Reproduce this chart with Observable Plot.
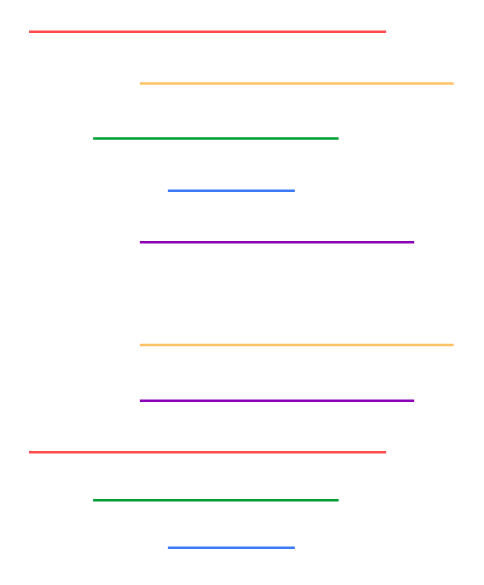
<!DOCTYPE html>
<html>
<head>
<meta charset="utf-8">
<script src="https://cdn.jsdelivr.net/npm/d3@7"></script>
<script src="https://cdn.jsdelivr.net/npm/@observablehq/plot@0.6"></script>
<style>
  html, body { margin: 0; padding: 0; background: #fff; }
  #chart svg { display: block; }
</style>
</head>
<body>
<div id="chart"></div>
<script>
// Series (one per colour)
const series = ["S1", "S2", "S3", "S4", "S5"];
const colors = ["#ff4d4d", "#ffc266", "#009e35", "#3d7af5", "#8c00b8"];
const starts = [0, 26.1, 15.1, 32.7, 26.1];
const ends   = [84.1, 100, 72.9, 62.6, 90.7];

// Row positions for the two groups (top: original order, bottom: sorted by end)
const topOrder    = ["S1", "S2", "S3", "S4", "S5"];
const topRows     = [0, 1.0, 2.07, 3.08, 4.08];
const bottomOrder = ["S2", "S5", "S1", "S3", "S4"];
const bottomRows  = [6.07, 7.15, 8.15, 9.08, 10.0];

const rows = [];
topOrder.forEach((s, i) => {
  const k = series.indexOf(s);
  rows.push({series: s, x1: starts[k], x2: ends[k], y: topRows[i]});
});
bottomOrder.forEach((s, i) => {
  const k = series.indexOf(s);
  rows.push({series: s, x1: starts[k], x2: ends[k], y: bottomRows[i]});
});

const chart = Plot.plot({
  width: 484,
  height: 585,
  marginLeft: 29,
  marginRight: 30.3,
  marginTop: 31.3,
  marginBottom: 37.7,
  x: {domain: [0, 100], axis: null},
  y: {domain: [0, 10], reverse: true, axis: null},
  color: {type: "ordinal", domain: series, range: colors},
  marks: [
    Plot.ruleY(rows, {y: "y", x1: "x1", x2: "x2", stroke: "series", strokeWidth: 2.5})
  ]
});
document.getElementById("chart").append(chart);
</script>
</body>
</html>
